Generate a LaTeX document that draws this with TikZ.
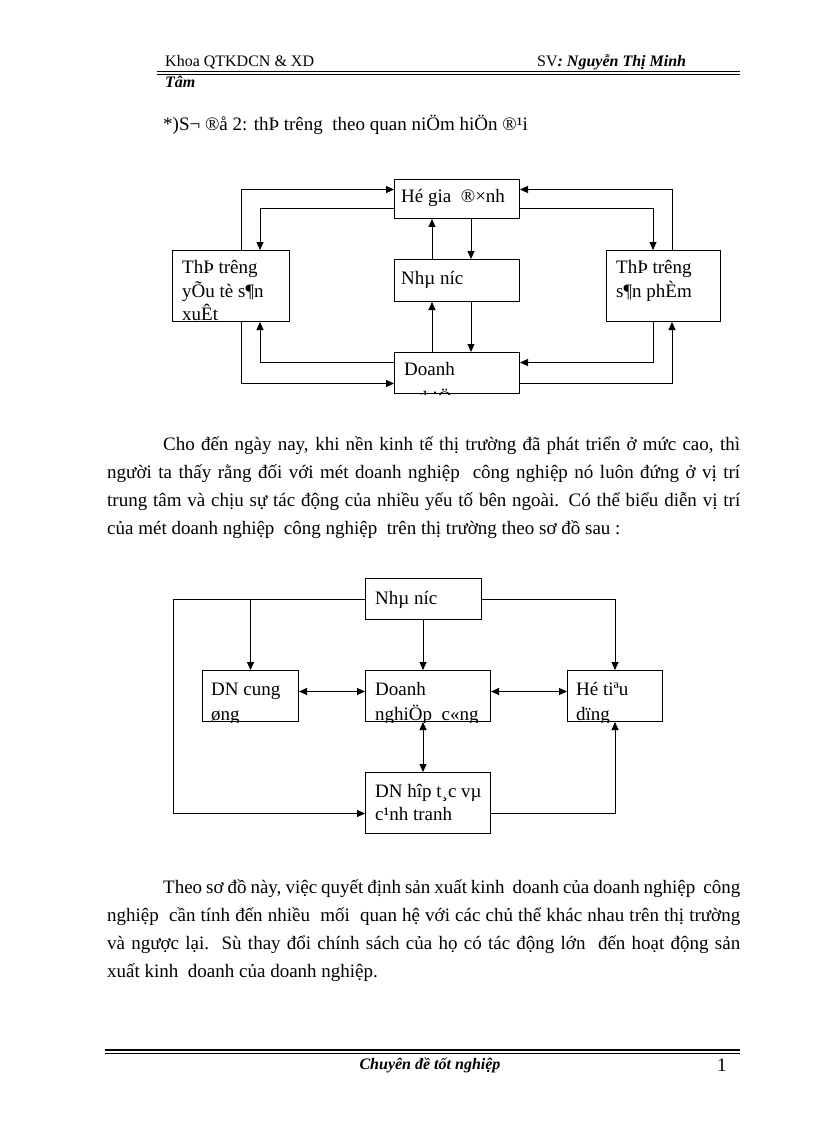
\documentclass[tikz,border=0pt]{standalone}
\usepackage{fontspec}
\setmainfont{Liberation Serif}
\usetikzlibrary{arrows.meta}
\begin{document}
\begin{tikzpicture}[x=1pt,y=-1pt,
  bx/.style={draw, line width=1pt, inner sep=0pt, anchor=north west},
  tx/.style={anchor=base west, inner sep=0pt, font=\fontsize{19}{24}\selectfont},
  hd/.style={anchor=base west, inner sep=0pt, font=\fontsize{16}{18}\selectfont},
  ar/.style={line width=0.9pt, -{Triangle[length=8pt,width=7pt]}},
  dar/.style={line width=0.9pt, {Triangle[length=8pt,width=7pt]}-{Triangle[length=8pt,width=7pt]}},
]
\useasboundingbox[fill=white] (0,0) rectangle (816,1123);

% ---------- header ----------
\node[hd] (h1) at (165,67) {Khoa QTKDCN \& XD};
\node[hd] (h2) at (537,67) {SV\textbf{\textit{: Nguyễn Thị Minh}}};
\node[hd] (h3) at (165,88) {\textbf{\textit{Tâm}}};
\draw[line width=0.8pt] (157,71.5) -- (740,71.5);
\draw[line width=1.6pt] (157,74.5) -- (740,74.5);

% ---------- title ----------
\node[tx] (ti) at (163,131) {*)S¬ ®å 2: thÞ trêng\ \ theo quan niÖm hiÖn ®¹i};

% ---------- diagram 1 ----------
\node[bx, minimum width=117pt, minimum height=71pt] (lb) at (172,250) {};
\node[bx, minimum width=125pt, minimum height=39pt] (hg) at (394,179) {};
\node[bx, minimum width=125pt, minimum height=42pt] (nn) at (394,259) {};
\node[bx, minimum width=125pt, minimum height=41pt] (dn) at (394,352) {};
\node[bx, minimum width=114pt, minimum height=71pt] (rb) at (606,250) {};

\begin{scope}
\clip (lb.south west) rectangle (lb.north east);
\node[tx] (lbt1) at (182,273) {ThÞ trêng};
\node[tx] (lbt2) at (182,297) {yÕu tè s¶n};
\node[tx] (lbt3) at (182,320) {xuÊt};
\end{scope}
\node[tx] (hgt) at (401,203) {Hé gia \ ®×nh};
\node[tx] (nnt) at (401,284) {Nhµ níc};
\begin{scope}
\clip (dn.south west) rectangle (dn.north east);
\node[tx] (dnt1) at (404,375) {Doanh};
\node[tx] (dnt2) at (404,404) {nghiÖp};
\end{scope}
\node[tx] (rbt1) at (616,273) {ThÞ trêng};
\node[tx] (rbt2) at (616,297) {s¶n phÈm};

\draw[ar] ([xshift=69pt]lb.north west) |- ([yshift=9.5pt]hg.west);
\draw[ar] ([yshift=-9.5pt]hg.west) -| ([xshift=88pt]lb.north west);
\draw[ar] ([xshift=38pt]nn.north west) -- ([xshift=38pt]hg.south west);
\draw[ar] ([xshift=77pt]hg.south west) -- ([xshift=77pt]nn.north west);
\draw[ar] ([xshift=77pt]nn.south west) -- ([xshift=77pt]dn.north west);
\draw[ar] ([xshift=38pt]dn.north west) -- ([xshift=38pt]nn.south west);
\draw[ar] ([yshift=10.5pt]dn.west) -| ([xshift=88pt]lb.south west);
\draw[ar] ([xshift=69pt]lb.south west) |- ([yshift=-10.5pt]dn.west);
\draw[ar] ([xshift=66pt]rb.north west) |- ([yshift=9.5pt]hg.east);
\draw[ar] ([yshift=-9.5pt]hg.east) -| ([xshift=47pt]rb.north west);
\draw[ar] ([xshift=47pt]rb.south west) |- ([yshift=10.5pt]dn.east);
\draw[ar] ([yshift=-10.5pt]dn.east) -| ([xshift=66pt]rb.south west);

% ---------- paragraph 1 ----------
\node[tx] (p1a) at (163,450) {\makebox[577pt][s]{Cho đến ngày nay, khi nền kinh tế thị trường đã phát triển ở mức cao, thì}};
\node[tx] (p1b) at (107,478) {\makebox[633pt][s]{người ta thấy rằng đối với mét doanh nghiệp\ \ công nghiệp nó luôn đứng ở vị trí}};
\node[tx] (p1c) at (107,506) {\makebox[633pt][s]{trung tâm và chịu sự tác động của nhiều yếu tố bên ngoài. Có thể biểu diễn vị trí}};
\node[tx] (p1d) at (107,534) {của mét doanh nghiệp\ \ công nghiệp\ \ trên thị trường theo sơ đồ sau :};

% ---------- diagram 2 ----------
\node[bx, minimum width=116pt, minimum height=41pt] (n2) at (365,578) {};
\node[bx, minimum width=96pt, minimum height=51pt] (cu) at (202,670) {};
\node[bx, minimum width=125pt, minimum height=51pt] (d2) at (365,670) {};
\node[bx, minimum width=95pt, minimum height=51pt] (ht) at (567,670) {};
\node[bx, minimum width=125pt, minimum height=61pt] (hp) at (365,772) {};

\node[tx] (n2t) at (375,604) {Nhµ níc};
\begin{scope}
\clip (cu.south west) rectangle (cu.north east);
\node[tx] (cut1) at (211,695) {DN cung};
\node[tx] (cut2) at (211,720) {øng};
\end{scope}
\begin{scope}
\clip (d2.south west) rectangle (d2.north east);
\node[tx] (d2t1) at (375,695) {Doanh};
\node[tx] (d2t2) at (375,720) {nghiÖp\ \ c«ng};
\end{scope}
\begin{scope}
\clip (ht.south west) rectangle (ht.north east);
\node[tx] (htt1) at (576,695) {Hé tiªu};
\node[tx] (htt2) at (576,720) {dïng};
\end{scope}
\node[tx] (hpt1) at (375,797) {DN hîp t¸c vµ};
\node[tx] (hpt2) at (375,820) {c¹nh tranh};

\draw[ar] (n2.west) -- ++(-192,0) |- ([yshift=-10.5pt]hp.west);
\draw[ar] (cu.north |- n2.west) -- (cu.north);
\draw[ar] ([xshift=58pt]n2.south west) -- ([xshift=58pt]d2.north west);
\draw[ar] (n2.east) -| (ht.north);
\draw[dar] ([yshift=4.5pt]cu.east) -- ([yshift=4.5pt]d2.west);
\draw[dar] ([yshift=4.5pt]d2.east) -- ([yshift=4.5pt]ht.west);
\draw[dar] ([xshift=58pt]d2.south west) -- ([xshift=58pt]hp.north west);
\draw[ar] ([yshift=-10.5pt]hp.east) -| (ht.south);

% ---------- paragraph 2 ----------
\node[tx] (p2a) at (163,893) {\makebox[577pt][s]{Theo sơ đồ này, việc quyết định sản xuất kinh\ \ doanh của doanh nghiệp\ \ công}};
\node[tx] (p2b) at (107,921) {\makebox[633pt][s]{nghiệp\ \ cần tính đến nhiều\ \ mối\ \ quan hệ với các chủ thể khác nhau trên thị trường}};
\node[tx] (p2c) at (107,949) {\makebox[633pt][s]{và ngược lại.\ \ Sù thay đổi chính sách của họ có tác động lớn\ \ đến hoạt động sản}};
\node[tx] (p2d) at (107,977) {xuất kinh\ \ doanh của doanh nghiệp.};

% ---------- footer ----------
\draw[line width=1.6pt] (105,1050) -- (740,1050);
\draw[line width=0.8pt] (105,1053.5) -- (740,1053.5);
\node[hd, anchor=base] (ft) at (430,1069) {\textbf{\textit{Chuyên đề tốt nghiệp}}};
\node[tx] (pg) at (717,1071) {1};
\end{tikzpicture}
\end{document}
